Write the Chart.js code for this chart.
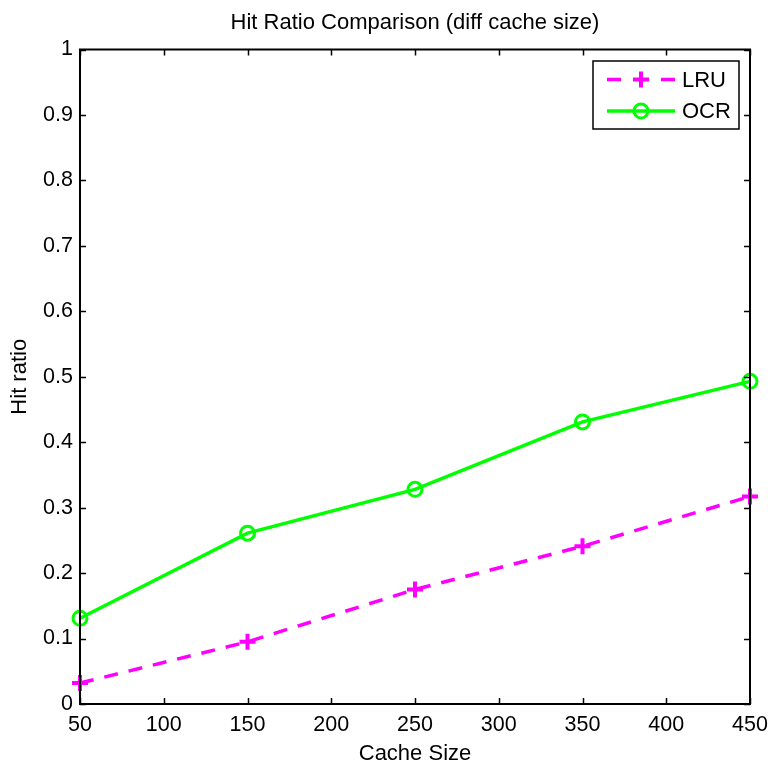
<!DOCTYPE html>
<html>
<head>
<meta charset="utf-8">
<script src="https://cdn.jsdelivr.net/npm/chart.js@4.4.1/dist/chart.umd.min.js"></script>
<style>
  html, body { margin: 0; padding: 0; background: #fff; }
  #wrap { width: 769px; height: 767px; position: relative; }
</style>
</head>
<body>
<div id="wrap"><canvas id="hitChart"></canvas></div>
<script>
const cacheSizes = [50, 150, 250, 350, 450];
const lruHitRatio = [0.032, 0.095, 0.175, 0.241, 0.317];
const ocrHitRatio = [0.131, 0.261, 0.328, 0.431, 0.493];

const chartTitle = 'Hit Ratio Comparison (diff cache size)';
const xTitle = 'Cache Size';
const yTitle = 'Hit ratio';

const FONT = '"Liberation Sans", Arial, Helvetica, sans-serif';
const MAGENTA = '#ff00ff';
const GREEN = '#00ff00';

// matlab-style frame: box on all sides, ticks pointing inward, title over plot area, boxed legend
const matlabFrame = {
  id: 'matlabFrame',
  afterDatasetsDraw(chart) {
    const { ctx, chartArea: a, scales } = chart;
    const tickLen = 6;
    ctx.save();
    ctx.strokeStyle = '#000';
    ctx.lineWidth = 1.5;

    ctx.beginPath();
    scales.x.ticks.forEach(t => {
      const px = Math.round(scales.x.getPixelForValue(t.value)) + 0.5;
      ctx.moveTo(px, a.bottom); ctx.lineTo(px, a.bottom - tickLen);
      ctx.moveTo(px, a.top); ctx.lineTo(px, a.top + tickLen);
    });
    scales.y.ticks.forEach(t => {
      const py = Math.round(scales.y.getPixelForValue(t.value)) + 0.5;
      ctx.moveTo(a.left, py); ctx.lineTo(a.left + tickLen, py);
      ctx.moveTo(a.right, py); ctx.lineTo(a.right - tickLen, py);
    });
    ctx.stroke();

    ctx.lineWidth = 2;
    ctx.strokeRect(a.left, a.top, a.right - a.left, a.bottom - a.top);

    // title
    ctx.fillStyle = '#000';
    ctx.font = '22px ' + FONT;
    ctx.textAlign = 'center';
    ctx.textBaseline = 'middle';
    ctx.fillText(chartTitle, (a.left + a.right) / 2, 23);

    // legend
    const box = { left: 593, top: 61, right: 739, bottom: 129 };
    ctx.fillStyle = '#fff';
    ctx.fillRect(box.left, box.top, box.right - box.left, box.bottom - box.top);
    ctx.lineWidth = 1.5;
    ctx.strokeRect(box.left, box.top, box.right - box.left, box.bottom - box.top);

    const rows = [79.5, 111];
    chart.data.datasets.forEach((ds, i) => {
      const y = rows[i];
      const x0 = 607, x1 = 675, xm = 641;
      ctx.strokeStyle = ds.borderColor;
      ctx.lineWidth = ds.borderWidth;
      ctx.setLineDash(ds.borderDash || []);
      ctx.beginPath();
      if (ds.borderDash) {
        ctx.moveTo(x0, y); ctx.lineTo(x0 + 14, y);
        ctx.moveTo(x1 - 14, y); ctx.lineTo(x1, y);
      } else {
        ctx.moveTo(x0, y); ctx.lineTo(x1, y);
      }
      ctx.stroke();
      ctx.setLineDash([]);
      ctx.lineWidth = ds.pointBorderWidth;
      ctx.fillStyle = 'rgba(0,0,0,0)';
      Chart.helpers.drawPoint(ctx, {
        pointStyle: ds.pointStyle, radius: ds.pointRadius, rotation: 0, borderWidth: ds.pointBorderWidth
      }, xm, y);
      ctx.fillStyle = '#000';
      ctx.font = '22px ' + FONT;
      ctx.textAlign = 'left';
      ctx.textBaseline = 'middle';
      ctx.fillText(ds.label, 682, y + 1);
    });
    ctx.restore();
  }
};

new Chart(document.getElementById('hitChart'), {
  type: 'line',
  data: {
    labels: cacheSizes,
    datasets: [{
      label: 'LRU',
      data: lruHitRatio,
      borderColor: MAGENTA,
      borderWidth: 3.5,
      borderDash: [14, 11],
      pointStyle: 'cross',
      pointRadius: 8,
      pointBorderWidth: 4,
      pointBorderColor: MAGENTA,
      pointBackgroundColor: 'rgba(0,0,0,0)',
      tension: 0,
      clip: false
    }, {
      label: 'OCR',
      data: ocrHitRatio,
      borderColor: GREEN,
      borderWidth: 3.5,
      pointStyle: 'circle',
      pointRadius: 7,
      pointBorderWidth: 3,
      pointBorderColor: GREEN,
      pointBackgroundColor: 'rgba(0,0,0,0)',
      tension: 0,
      clip: false
    }]
  },
  options: {
    responsive: true,
    maintainAspectRatio: false,
    animation: false,
    layout: { padding: { top: 49.5, right: 19, left: 0, bottom: 0 } },
    plugins: {
      legend: { display: false },
      title: { display: false },
      tooltip: { enabled: false }
    },
    scales: {
      x: {
        type: 'linear',
        min: 50,
        max: 450,
        ticks: { stepSize: 50, padding: 8, color: '#000', font: { family: FONT, size: 21.5 }, maxRotation: 0 },
        grid: { display: false, drawTicks: false },
        border: { display: false },
        title: { display: true, text: xTitle, color: '#000', font: { family: FONT, size: 22 }, padding: { top: 0, bottom: 0 } },
        afterFit(scale) {
          scale.height = 63;
          scale.paddingLeft = 0;
          scale.paddingRight = 0;
        }
      },
      y: {
        min: 0,
        max: 1,
        ticks: {
          stepSize: 0.1, padding: 7, color: '#000', font: { family: FONT, size: 21.5 },
          callback: v => String(Number(v.toFixed(1)))
        },
        grid: { display: false, drawTicks: false },
        border: { display: false },
        title: { display: true, text: yTitle, color: '#000', font: { family: FONT, size: 22 }, padding: { top: 7, bottom: 0 } },
        afterFit(scale) { scale.width = 80; }
      }
    }
  },
  plugins: [matlabFrame]
});
</script>
</body>
</html>
